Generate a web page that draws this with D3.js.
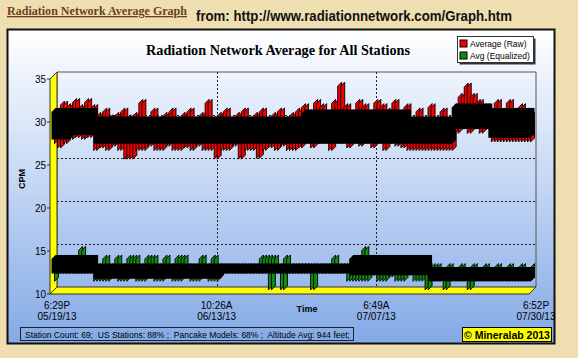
<!DOCTYPE html>
<html lang="en">
	<head>
		<meta charset="utf-8">
		<title>Radiation Network Average Graph</title>
		<script src="https://d3js.org/d3.v7.min.js"></script>
		<style type="text/css">
			body {
				margin: 0;
				background: #efdeb0;
			}
			text {
				font-family: "Liberation Sans", Arial, sans-serif;
			}
		</style>
	</head>
	<body>
		<script type="text/javascript">
			//Data: one reading per sample, alternating low / high as the graph swings
			var rawAvg = [
				27.3, 31.0, 26.8, 31.8, 27.3, 31.5, 27.8, 32.1, 28.0, 31.4,
				27.8, 32.1, 28.0, 31.4, 26.5, 30.5, 26.8, 31.0, 26.5, 30.2,
				27.0, 30.5, 26.5, 31.0, 25.5, 30.2, 25.5, 30.5, 26.5, 32.0,
				26.5, 30.0, 27.0, 31.0, 26.5, 30.0, 26.5, 30.5, 27.0, 31.0,
				26.5, 30.0, 26.5, 30.5, 26.8, 31.0, 26.5, 30.0, 27.0, 30.5,
				26.5, 32.0, 26.5, 30.0, 25.5, 30.5, 26.5, 31.0, 26.5, 30.0,
				27.0, 30.5, 25.5, 31.0, 26.5, 30.0, 26.5, 30.5, 25.6, 31.0,
				26.5, 30.0, 26.8, 30.5, 26.5, 31.0, 27.0, 30.0, 26.5, 30.5,
				26.5, 31.0, 26.8, 31.5, 27.3, 30.8, 26.8, 32.0, 27.3, 31.5,
				27.3, 30.8, 26.5, 32.0, 27.3, 34.0, 27.3, 31.5, 26.8, 30.8,
				27.3, 32.0, 27.0, 31.5, 27.3, 30.8, 26.8, 32.0, 27.3, 31.5,
				26.5, 31.0, 27.3, 32.0, 27.0, 30.8, 26.8, 31.5, 26.5, 30.0,
				26.5, 31.0, 26.5, 30.0, 26.5, 31.5, 26.5, 30.0, 26.5, 31.0,
				26.5, 30.0, 26.5, 31.5, 28.5, 32.7, 29.0, 33.9, 28.5, 32.7,
				29.0, 32.0, 28.5, 31.5, 29.0, 31.0, 27.5, 32.0, 27.5, 31.0,
				27.5, 32.0, 27.5, 31.0, 27.5, 31.5, 27.5, 31.0, 27.5, 30.5
			];
			var eqAvg = [
				11.3, 13.9, 12.2, 13.9, 12.2, 13.9, 12.2, 13.9, 12.2, 14.9,
				12.2, 13.9, 12.2, 13.9, 11.3, 12.9, 11.3, 13.9, 11.3, 12.9,
				12.0, 13.9, 11.3, 12.9, 11.3, 13.9, 12.0, 13.9, 11.3, 12.9,
				11.3, 13.9, 11.8, 13.9, 11.3, 12.9, 11.3, 13.9, 12.0, 12.9,
				11.3, 13.9, 11.3, 13.9, 11.8, 12.9, 11.3, 12.9, 11.3, 13.9,
				11.8, 12.9, 11.3, 13.9, 11.3, 12.9, 12.2, 12.9, 12.2, 12.9,
				12.2, 12.9, 12.2, 12.9, 12.2, 12.9, 12.2, 12.9, 12.2, 13.9,
				12.2, 13.9, 10.3, 13.9, 12.2, 12.9, 10.3, 13.9, 12.2, 12.9,
				12.2, 12.9, 12.2, 12.9, 12.2, 12.9, 10.3, 12.9, 12.2, 12.9,
				12.2, 12.9, 12.2, 13.9, 12.2, 12.9, 12.2, 12.9, 11.3, 13.9,
				11.3, 13.9, 11.3, 14.9, 11.3, 13.9, 12.0, 13.9, 11.3, 13.9,
				11.3, 13.9, 11.8, 13.9, 11.3, 13.9, 11.3, 13.9, 12.0, 13.9,
				11.3, 13.9, 11.3, 13.9, 10.3, 12.9, 11.3, 12.9, 11.3, 12.5,
				10.3, 12.9, 11.3, 12.5, 11.3, 12.9, 11.3, 12.5, 10.3, 12.9,
				11.3, 12.5, 11.3, 12.9, 11.3, 12.5, 11.3, 12.9, 11.3, 12.5,
				11.3, 12.9, 11.3, 12.5, 11.3, 12.9, 11.3, 12.5, 11.3, 12.9
			];
			//Dense core of each trace (where the line overplots itself solid black):
			//start sample, low CPM, high CPM
			var rawCoreStart = [0, 6, 14, 83, 118, 133, 145];
			var rawCoreLow = [27.8, 28.3, 27.3, 27.3, 27.3, 29.0, 28.0];
			var rawCoreHigh = [31.0, 31.0, 30.0, 30.8, 30.0, 31.5, 31.0];
			var eqCoreStart = [0, 14, 56, 99, 125];
			var eqCoreLow = [12.2, 11.6, 12.2, 12.0, 11.3];
			var eqCoreHigh = [13.9, 12.9, 12.9, 13.9, 12.5];

			var seriesNames = ["Average (Raw)", "Avg (Equalized)"];
			var seriesColors = ["#f00000", "#108a10"];
			var yTicks = [10, 15, 20, 25, 30, 35];
			var xTickIndex = [0, 53, 106, 159];
			var xTickLabels = [["6:29P", "05/19/13"], ["10:26A", "06/13/13"], ["6:49A", "07/07/13"], ["6:52P", "07/30/13"]];
			var infoText = "Station Count: 69;  US Stations: 88% ;  Pancake Models: 68% ;  Altitude Avg: 944 feet;";

			var width = 578;
			var height = 358;
			//3D depth offset of the back wall
			var dx = 7, dy = -7;
			//ribbon sits inside the depth: front offset and thickness
			var rOff = 1.5, rDepth = 4;

			var svg = d3.select("body").append("svg")
				.attr("width", width)
				.attr("height", height);

			var defs = svg.append("defs");
			var grad = defs.append("linearGradient")
				.attr("id", "bg")
				.attr("x1", 0).attr("y1", 0)
				.attr("x2", 0).attr("y2", 1);
			grad.append("stop").attr("offset", "0%").attr("stop-color", "#ffffff");
			grad.append("stop").attr("offset", "45%").attr("stop-color", "#c9daf5");
			grad.append("stop").attr("offset", "100%").attr("stop-color", "#83a9e6");

			//Page headings
			svg.append("text")
				.attr("x", 7)
				.attr("y", 15)
				.attr("textLength", 180)
				.attr("lengthAdjust", "spacingAndGlyphs")
				.style("font-family", "'Liberation Serif', serif")
				.style("font-weight", "bold")
				.style("font-size", "13px")
				.style("fill", "#6e3f1c")
				.style("text-decoration", "underline")
				.text("Radiation Network Average Graph");
			svg.append("text")
				.attr("x", 196)
				.attr("y", 21)
				.attr("textLength", 316)
				.attr("lengthAdjust", "spacingAndGlyphs")
				.style("font-weight", "bold")
				.style("font-size", "14.5px")
				.style("fill", "#111")
				.text("from: http://www.radiationnetwork.com/Graph.htm");

			//Chart frame
			svg.append("rect")
				.attr("x", 7.5)
				.attr("y", 29.5)
				.attr("width", 547)
				.attr("height", 314)
				.attr("fill", "url(#bg)")
				.attr("stroke", "#111")
				.attr("stroke-width", 2);

			svg.append("text")
				.attr("x", 278)
				.attr("y", 55)
				.attr("text-anchor", "middle")
				.attr("textLength", 264)
				.attr("lengthAdjust", "spacingAndGlyphs")
				.style("font-family", "'Liberation Serif', serif")
				.style("font-weight", "bold")
				.style("font-size", "15px")
				.text("Radiation Network Average for All Stations");

			//Scales
			var N = rawAvg.length;
			var xScale = d3.scaleLinear()
				.domain([0, N - 1])
				.range([50, 529]);
			var yScale = d3.scaleLinear()
				.domain([10, 35])
				.range([294, 79]);

			var x0 = xScale(0), x1 = xScale(N - 1);
			var yTop = yScale(35), yBot = yScale(10);

			//Back wall outline
			svg.append("path")
				.attr("d", "M" + (x0 + dx) + "," + (yBot + dy) + "V" + (yTop + dy) + "H" + (x1 + dx) + "V" + (yBot + dy))
				.attr("fill", "none")
				.attr("stroke", "#555")
				.attr("stroke-width", 1);

			//Horizontal dashed gridlines on back wall
			svg.selectAll("line.hgrid")
				.data(yTicks.filter(function(d) { return d > 10 && d < 35; }))
				.enter()
				.append("line")
				.attr("class", "hgrid")
				.attr("x1", x0 + dx)
				.attr("x2", x1 + dx)
				.attr("y1", function(d) { return yScale(d) + dy + 0.5; })
				.attr("y2", function(d) { return yScale(d) + dy + 0.5; })
				.attr("stroke", "#222")
				.attr("stroke-dasharray", "2,2");

			//Vertical dashed gridlines on back wall
			svg.selectAll("line.vgrid")
				.data(xTickIndex.slice(1, 3))
				.enter()
				.append("line")
				.attr("class", "vgrid")
				.attr("x1", function(d) { return Math.round(xScale(d) + dx) + 0.5; })
				.attr("x2", function(d) { return Math.round(xScale(d) + dx) + 0.5; })
				.attr("y1", yTop + dy)
				.attr("y2", yBot + dy)
				.attr("stroke", "#222")
				.attr("stroke-dasharray", "2,2");

			//Yellow left wall and floor
			svg.append("polygon")
				.attr("points", [[x0, yTop], [x0 + dx, yTop + dy], [x0 + dx, yBot + dy], [x0, yBot]].join(" "))
				.attr("fill", "#ffff00")
				.attr("stroke", "#333")
				.attr("stroke-width", 1);
			svg.append("polygon")
				.attr("points", [[x0, yBot], [x0 + dx, yBot + dy], [x1 + dx, yBot + dy], [x1, yBot]].join(" "))
				.attr("fill", "#ffff00")
				.attr("stroke", "#333")
				.attr("stroke-width", 1);

			//Y ticks on wall
			svg.selectAll("line.ytick")
				.data(yTicks)
				.enter()
				.append("line")
				.attr("class", "ytick")
				.attr("x1", x0 - 3)
				.attr("x2", x0)
				.attr("y1", function(d) { return yScale(d); })
				.attr("y2", function(d) { return yScale(d); })
				.attr("stroke", "#333");

			svg.selectAll("text.ylab")
				.data(yTicks)
				.enter()
				.append("text")
				.attr("class", "ylab")
				.attr("x", 46)
				.attr("y", function(d) { return yScale(d) + 4; })
				.attr("text-anchor", "end")
				.style("font-size", "10px")
				.text(function(d) { return d; });

			svg.append("text")
				.attr("transform", "translate(25,179) rotate(-90)")
				.attr("text-anchor", "middle")
				.style("font-weight", "bold")
				.style("font-size", "9px")
				.text("CPM");

			//3D trace for each series: the swing into each sample is a near-vertical
			//face (the readings are far denser than the pixels), then the dense black core over it
			function drawRibbon(values, color, coreStart, coreLow, coreHigh) {
				var ox = rOff, oy = -rOff, ex = rOff + rDepth, ey = -rOff - rDepth;
				var faces = d3.range(1, values.length).map(function(i) {
					var xa = xScale(i);
					var ya = yScale(values[i - 1]), yb = yScale(values[i]);
					return [[xa + ox, ya + oy], [xa + ox, yb + oy], [xa + ex, yb + ey], [xa + ex, ya + ey]];
				});
				var g = svg.append("g");
				g.selectAll("polygon.face")
					.data(faces)
					.enter()
					.append("polygon")
					.attr("class", "face")
					.attr("points", function(d) { return d.join(" "); })
					.attr("fill", color)
					.attr("stroke", "#000")
					.attr("stroke-width", 0.9);

				var cores = coreStart.map(function(s, k) {
					var e = k + 1 < coreStart.length ? coreStart[k + 1] : values.length - 1;
					var xs = xScale(s), xe = xScale(e);
					var yl = yScale(coreLow[k]), yh = yScale(coreHigh[k]);
					return [[xs + ox, yl + oy], [xe + ox, yl + oy], [xe + ex, yl + ey],
						[xe + ex, yh + ey], [xs + ex, yh + ey], [xs + ox, yh + oy]];
				});
				g.selectAll("polygon.core")
					.data(cores)
					.enter()
					.append("polygon")
					.attr("class", "core")
					.attr("points", function(d) { return d.join(" "); })
					.attr("fill", "#000");
			}
			drawRibbon(eqAvg, seriesColors[1], eqCoreStart, eqCoreLow, eqCoreHigh);
			drawRibbon(rawAvg, seriesColors[0], rawCoreStart, rawCoreLow, rawCoreHigh);

			//X tick labels
			var xl = svg.selectAll("text.xlab")
				.data(xTickIndex)
				.enter()
				.append("text")
				.attr("class", "xlab")
				.attr("text-anchor", "middle")
				.style("font-size", "10px");
			xl.append("tspan")
				.attr("x", function(d) { return xScale(d) + dx; })
				.attr("y", 309)
				.text(function(d, i) { return xTickLabels[i][0]; });
			xl.append("tspan")
				.attr("x", function(d) { return xScale(d) + dx; })
				.attr("y", 320)
				.text(function(d, i) { return xTickLabels[i][1]; });

			svg.append("text")
				.attr("x", 307)
				.attr("y", 312)
				.attr("text-anchor", "middle")
				.style("font-weight", "bold")
				.style("font-size", "9px")
				.text("Time");

			//Legend
			svg.append("rect")
				.attr("x", 459.5).attr("y", 38.5)
				.attr("width", 76).attr("height", 26)
				.attr("fill", "#333");
			svg.append("rect")
				.attr("x", 457.5).attr("y", 36.5)
				.attr("width", 76).attr("height", 26)
				.attr("fill", "#fff")
				.attr("stroke", "#333");
			var leg = svg.selectAll("g.leg")
				.data(seriesNames)
				.enter()
				.append("g")
				.attr("class", "leg")
				.attr("transform", function(d, i) { return "translate(460," + (40 + i * 12) + ")"; });
			leg.append("rect")
				.attr("width", 7).attr("height", 7)
				.attr("fill", function(d, i) { return seriesColors[i]; })
				.attr("stroke", "#000");
			leg.append("text")
				.attr("x", 10)
				.attr("y", 7)
				.style("font-size", "8.5px")
				.text(function(d) { return d; });

			//Info strip
			svg.append("rect")
				.attr("x", 20.5).attr("y", 327.5)
				.attr("width", 333).attr("height", 13)
				.attr("fill", "none")
				.attr("stroke", "#222");
			svg.append("text")
				.attr("x", 25)
				.attr("y", 337.5)
				.style("font-size", "8.5px")
				.style("white-space", "pre")
				.text(infoText);

			svg.append("rect")
				.attr("x", 462.5).attr("y", 327.5)
				.attr("width", 89).attr("height", 14)
				.attr("fill", "#ffff00")
				.attr("stroke", "#000");
			svg.append("text")
				.attr("x", 507)
				.attr("y", 338.5)
				.attr("text-anchor", "middle")
				.style("font-weight", "bold")
				.style("font-size", "10.5px")
				.text("\u00a9 Mineralab 2013");
		</script>
	</body>
</html>
